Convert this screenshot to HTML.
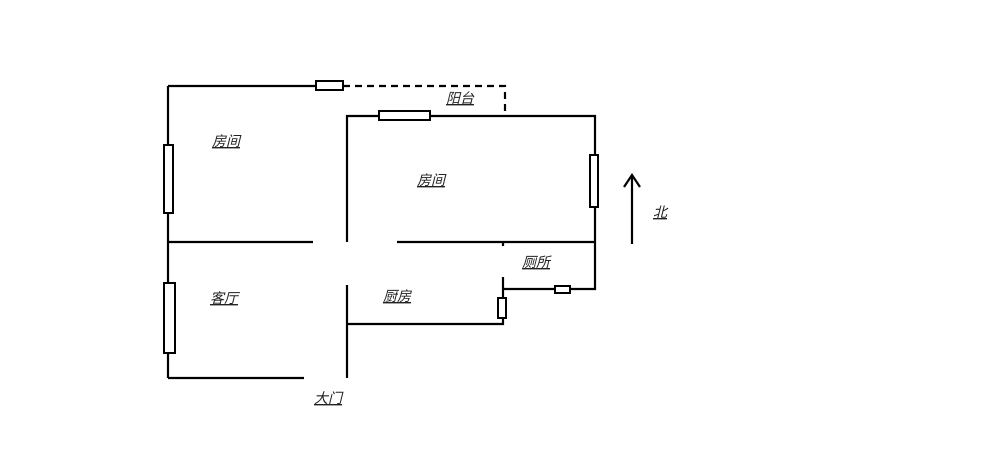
<!DOCTYPE html>
<html><head><meta charset="utf-8"><style>
html,body{margin:0;padding:0;background:#fff;}
svg{display:block}
text{font-family:"Liberation Sans","Noto Sans CJK SC",sans-serif;font-size:14px;font-style:italic;text-decoration:underline;fill:#222}
</style></head><body>
<svg width="1000" height="474" viewBox="0 0 1000 474" xmlns="http://www.w3.org/2000/svg">
<g stroke="#000" stroke-width="2.2" fill="none">
<path d="M168 86 H316 M168 86 V378 M168 378 H304"/>
<path d="M343 86 H505 V116" stroke-dasharray="7,5"/>
<path d="M347 242 V116 H595 V242"/>
<path d="M168 242 H313 M397 242 H595"/>
<path d="M595 242 V289 H503 V277 M503 242 V246 M503 289 V324 H347 M347 285 V378"/>
<path d="M632 244 V175 M624 187 L632 175 L640 187"/>
</g>
<g stroke="#000" stroke-width="2" fill="#fff">
<rect x="316" y="81" width="27" height="9"/>
<rect x="379" y="111" width="51" height="9"/>
<rect x="164" y="145" width="9" height="68"/>
<rect x="590" y="155" width="8" height="52"/>
<rect x="164" y="283" width="11" height="70"/>
<rect x="555" y="286" width="15" height="7"/>
<rect x="498" y="298" width="8" height="20"/>
</g>
<text x="212" y="146">房间</text>
<text x="417" y="185">房间</text>
<text x="446" y="103">阳台</text>
<text x="653" y="217">北</text>
<text x="522" y="267">厕所</text>
<text x="383" y="301">厨房</text>
<text x="210" y="303">客厅</text>
<text x="314" y="403">大门</text>
</svg>
</body></html>
